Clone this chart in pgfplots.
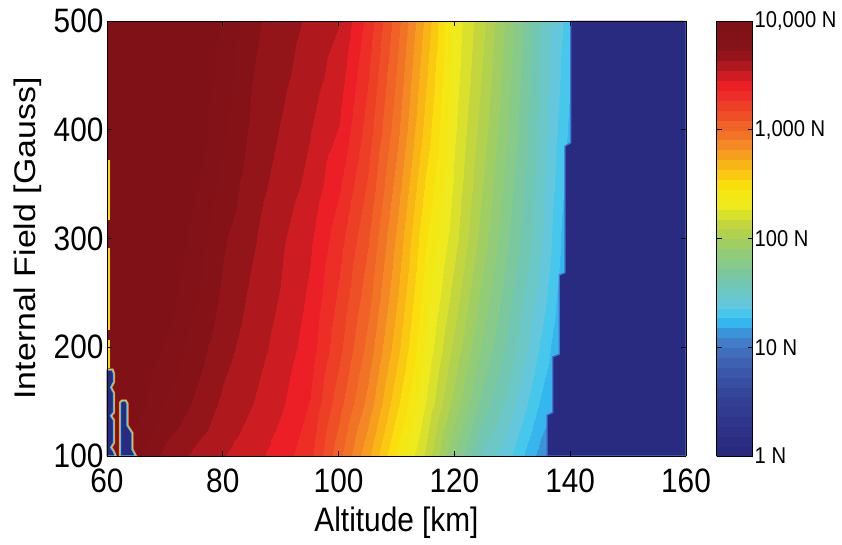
\documentclass[border=0pt]{standalone}
\usepackage{pgfplots}
\pgfplotsset{compat=1.18}
\usepackage{fontspec}
\setmainfont{Liberation Sans}[FakeStretch=0.88]
\newfontfamily\ylabfont{Liberation Sans}
\definecolor{navyc}{rgb}{0.16,0.17,0.50}
\definecolor{edgeblue}{rgb}{0.25,0.45,0.80}
\definecolor{artcyan}{rgb}{0.30,0.75,0.95}
\definecolor{artyel}{rgb}{0.98,0.85,0.10}
\definecolor{artred}{rgb}{0.93,0.30,0.15}
\pgfplotsset{colormap={dragmap}{
 rgb(0pt)=(0.16,0.16,0.50) rgb(12pt)=(0.20,0.25,0.58) rgb(20pt)=(0.24,0.36,0.68)
 rgb(25pt)=(0.26,0.47,0.77) rgb(29pt)=(0.22,0.62,0.88) rgb(31pt)=(0.20,0.78,0.96)
 rgb(35pt)=(0.40,0.78,0.86) rgb(40pt)=(0.45,0.78,0.68) rgb(47pt)=(0.58,0.80,0.45)
 rgb(53pt)=(0.75,0.83,0.25) rgb(58pt)=(0.93,0.92,0.12) rgb(62pt)=(0.98,0.90,0.05)
 rgb(67pt)=(0.98,0.72,0.08) rgb(73pt)=(0.95,0.50,0.15) rgb(80pt)=(0.93,0.28,0.15)
 rgb(86pt)=(0.93,0.12,0.15) rgb(90pt)=(0.72,0.10,0.12) rgb(94pt)=(0.53,0.07,0.09)
 rgb(100pt)=(0.50,0.07,0.09)}}
\begin{document}
\begin{tikzpicture}
\path[use as bounding box] (-107bp,-89bp) rectangle (735bp,456bp);
\begin{axis}[
  at={(0,0)}, anchor=south west,
  scale only axis, width=579bp, height=435bp,
  view={0}{90},
  xmin=60, xmax=160, ymin=100, ymax=500,
  xtick={60,80,...,160}, ytick={100,200,...,500},
  xtick pos=both, ytick pos=both,
  tick align=inside, major tick length=5bp,
  every tick/.style={black, line width=0.7bp},
  axis line style={black, line width=0.9bp},
  /pgf/number format/assume math mode=true,
  tick label style={font=\fontsize{34}{34}\selectfont},
  xticklabel style={yshift=-9bp},
  xlabel={Altitude [km]}, ylabel={Internal Field [Gauss]},
  xlabel style={font=\fontsize{34}{34}\selectfont, inner sep=0pt, yshift=-11bp},
  ylabel style={font=\ylabfont\fontsize{34}{34}\selectfont, inner sep=0pt, yscale=0.88, yshift=10bp},
  axis on top,
  colormap name=dragmap,
  point meta min=0, point meta max=4,
  colorbar sampled,
  colorbar style={
    at={(parent axis.north east)}, anchor=north west, xshift=22bp,
    scale only axis, width=36bp, height=435bp,
    samples=45,
    ytick={0,1,2,3,4},
    yticklabels={1 N,10 N,100 N,{1,000 N},{10,000 N}},
    ytick pos=both, yticklabel pos=right,
    tick align=inside, major tick length=5bp,
    every tick/.style={black, line width=0.7bp},
    axis line style={black, line width=0.9bp},
    yticklabel style={font=\fontsize{23}{24}\selectfont, inner sep=1bp, xshift=1bp},
  },
]
% log10 of drag force [N] on a grid: altitude h [km] x internal field B [Gauss]
\addplot3[contour filled={number=44}, mesh/cols=21] coordinates {
(60,100,4.10) (65,100,3.85) (70,100,3.70) (75,100,3.62) (80,100,3.55) (85,100,3.49) (90,100,3.41) (95,100,3.30) (100,100,3.03) (105,100,2.75) (110,100,2.45) (115,100,2.17) (120,100,1.82) (125,100,1.53) (130,100,1.36) (135,100,1.14) (140,100,1.00) (145,100,0.90) (150,100,0) (155,100,0) (160,100,0)
(60,150,4.17) (65,150,3.96) (70,150,3.82) (75,150,3.72) (80,150,3.62) (85,150,3.55) (90,150,3.47) (95,150,3.36) (100,150,3.13) (105,150,2.88) (110,150,2.58) (115,150,2.28) (120,150,1.97) (125,150,1.69) (130,150,1.49) (135,150,1.26) (140,150,1.07) (145,150,0.94) (150,150,0) (155,150,0) (160,150,0)
(60,200,4.23) (65,200,4.05) (70,200,3.90) (75,200,3.78) (80,200,3.67) (85,200,3.59) (90,200,3.51) (95,200,3.41) (100,200,3.21) (105,200,2.97) (110,200,2.68) (115,200,2.36) (120,200,2.07) (125,200,1.80) (130,200,1.58) (135,200,1.35) (140,200,1.11) (145,200,0.96) (150,200,0) (155,200,0) (160,200,0)
(60,250,4.27) (65,250,4.11) (70,250,3.97) (75,250,3.84) (80,250,3.71) (85,250,3.62) (90,250,3.54) (95,250,3.44) (100,250,3.26) (105,250,3.04) (110,250,2.75) (115,250,2.42) (120,250,2.15) (125,250,1.88) (130,250,1.64) (135,250,1.42) (140,250,1.15) (145,250,0.98) (150,250,0) (155,250,0) (160,250,0)
(60,300,4.30) (65,300,4.16) (70,300,4.02) (75,300,3.88) (80,300,3.74) (85,300,3.65) (90,300,3.56) (95,300,3.47) (100,300,3.31) (105,300,3.10) (110,300,2.81) (115,300,2.47) (120,300,2.22) (125,300,1.95) (130,300,1.70) (135,300,1.47) (140,300,1.18) (145,300,1.00) (150,300,0) (155,300,0) (160,300,0)
(60,350,4.36) (65,350,4.22) (70,350,4.07) (75,350,3.93) (80,350,3.79) (85,350,3.68) (90,350,3.60) (95,350,3.52) (100,350,3.38) (105,350,3.17) (110,350,2.88) (115,350,2.54) (120,350,2.26) (125,350,2.00) (130,350,1.74) (135,350,1.49) (140,350,1.22) (145,350,1.03) (150,350,0) (155,350,0) (160,350,0)
(60,400,4.41) (65,400,4.27) (70,400,4.12) (75,400,3.98) (80,400,3.83) (85,400,3.71) (90,400,3.63) (95,400,3.55) (100,400,3.45) (105,400,3.23) (110,400,2.95) (115,400,2.61) (120,400,2.29) (125,400,2.04) (130,400,1.78) (135,400,1.51) (140,400,1.25) (145,400,1.06) (150,400,0) (155,400,0) (160,400,0)
(60,450,4.46) (65,450,4.31) (70,450,4.16) (75,450,4.02) (80,450,3.87) (85,450,3.73) (90,450,3.66) (95,450,3.59) (100,450,3.50) (105,450,3.28) (110,450,3.00) (115,450,2.66) (120,450,2.32) (125,450,2.08) (130,450,1.81) (135,450,1.53) (140,450,1.28) (145,450,1.08) (150,450,0) (155,450,0) (160,450,0)
(60,500,4.50) (65,500,4.35) (70,500,4.20) (75,500,4.05) (80,500,3.90) (85,500,3.75) (90,500,3.68) (95,500,3.62) (100,500,3.55) (105,500,3.33) (110,500,3.05) (115,500,2.71) (120,500,2.34) (125,500,2.11) (130,500,1.84) (135,500,1.54) (140,500,1.31) (145,500,1.10) (150,500,0) (155,500,0) (160,500,0)
};
% region below 1 N (cut-off), staircase boundary
\addplot3[fill=navyc, draw=edgeblue, line width=1.2bp] coordinates {
(136,100,0) (136,137.7,0) (137,140,0) (137,191.3,0) (138.1,193.5,0) (138.1,266.4,0)
(139.1,268.5,0) (139.1,385,0) (140.1,388,0) (140.1,500,0) (160,500,0) (160,100,0)} --cycle;
% artefacts at the left edge
\addplot3[fill=navyc, draw=artcyan, line width=1.1bp,
  preaction={draw=artred, line width=3.6bp}, preaction={draw=artyel, line width=2.4bp}] coordinates {
(60,100,0) (60,179,0) (60.9,179,0) (61.1,176,0) (61.1,168,0) (60.6,163,0) (61.1,158,0)
(61.1,140,0) (60.6,137,0) (61.1,133,0) (61.1,112,0) (60.6,108,0) (61.1,104,0) (61.4,100,0)} --cycle;
\addplot3[fill=navyc, draw=artcyan, line width=1.1bp,
  preaction={draw=artred, line width=3.6bp}, preaction={draw=artyel, line width=2.4bp}] coordinates {
(62.35,100,0) (62.35,149,0) (62.6,150.5,0) (63.2,150.5,0) (63.45,148,0) (63.45,128,0)
(64.3,121,0) (64.3,106,0) (64.9,100,0)} --cycle;
\addplot3[draw=artyel, line width=1.6bp] coordinates {(60.3,317,0) (60.3,372,0)};
\addplot3[draw=artyel, line width=1.6bp] coordinates {(60.3,216,0) (60.3,291,0)};
\addplot3[draw=artyel, line width=1.6bp] coordinates {(60.3,181,0) (60.3,207,0)};
\end{axis}
\end{tikzpicture}
\end{document}
